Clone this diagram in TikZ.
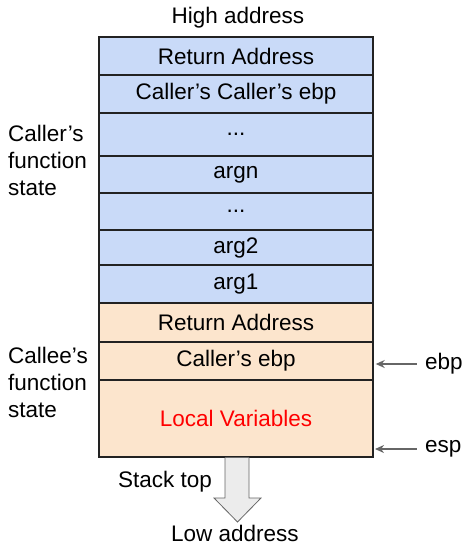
\documentclass[tikz,border=0pt]{standalone}
\usepackage{fontspec}
\setmainfont{Liberation Sans}
\usepackage{tikz}
\usetikzlibrary{arrows.meta}

\definecolor{callerblue}{HTML}{C9DAF8}
\definecolor{calleeorange}{HTML}{FCE5CD}
\definecolor{edgedark}{HTML}{222222}
\definecolor{ptrgray}{HTML}{666666}

\tikzset{
  slot/.style={draw=edgedark,line width=1.4pt,minimum width=274pt,inner sep=0pt},
  callerslot/.style={slot,fill=callerblue},
  calleeslot/.style={slot,fill=calleeorange},
  ptr/.style={{Stealth[length=9pt,width=8pt]}-,ptrgray,line width=1.4pt}
}

\begin{document}
\begin{tikzpicture}[>=stealth, x=1pt, y=-1pt, font=\fontsize{22.5}{27}\selectfont]
  \useasboundingbox (0,0) rectangle (472,555);
  % caller's frame
  \node[callerslot,minimum height=38pt] (ret1) at (236,56) {Return Address};
  \node[callerslot,minimum height=38pt] (cebp2) at (236,94) {Caller’s Caller’s ebp};
  \node[callerslot,minimum height=43pt] (dots1) at (236,134.5) {...};
  \node[callerslot,minimum height=37pt] (argn) at (236,174.5) {argn};
  \node[callerslot,minimum height=37pt] (dots2) at (236,211.5) {...};
  \node[callerslot,minimum height=35pt] (arg2) at (236,247.5) {arg2};
  \node[callerslot,minimum height=38pt] (arg1) at (236,284) {arg1};
  % callee's frame
  \node[calleeslot,minimum height=39pt] (ret2) at (236,322.5) {Return Address};
  \node[calleeslot,minimum height=38pt] (cebp) at (236,361) {Caller’s ebp};
  \node[calleeslot,minimum height=77pt,text=red] (locals) at (236,418.5) {Local Variables};

  \node (high) at (238,18) {High address};
  \node (low) at (235,533) {Low address};
  \node (top) at (165,482) {Stack top};
  \node[align=left,anchor=west,inner sep=0pt] (callerlbl) at (8,160) {Caller’s\\function\\state};
  \node[align=left,anchor=west,inner sep=0pt] (calleelbl) at (8,382) {Callee’s\\function\\state};

  % pointers
  \node[anchor=west,inner sep=0pt] (ebp) at (425,364) {ebp};
  \node[anchor=west,inner sep=0pt] (esp) at (425,449) {esp};
  \coordinate (espat) at (375,449);
  \draw[ptr] ([xshift=2pt]cebp.east |- ebp.west) -- ([xshift=-8pt]ebp.west);
  \draw[ptr] (espat) -- ([xshift=-8pt]esp.west);

  % growth direction
  \draw[ptrgray,fill=gray!15,line width=0.8pt] (225,457.7) -- (225,498) -- (214,498) -- (237.5,522)
    -- (261,498) -- (249,498) -- (249,457.7);
\end{tikzpicture}
\end{document}
